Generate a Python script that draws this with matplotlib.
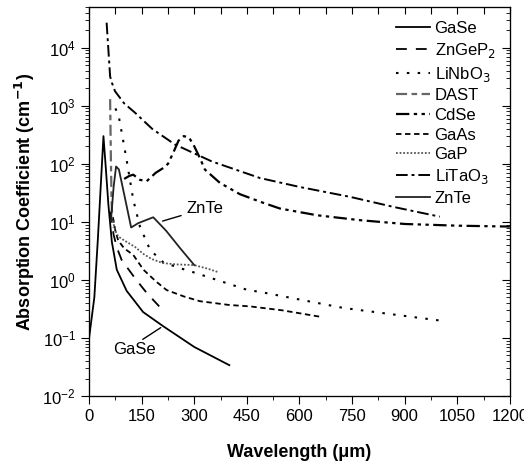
import numpy as np
import matplotlib
matplotlib.use('Agg')
import matplotlib.pyplot as plt

plt.rcParams['font.family'] = ['Liberation Sans', 'DejaVu Sans']

# data (wavelength in um, absorption in cm^-1)
gase_x = [0, 15, 25, 32, 41, 48, 55, 65, 79, 107, 154, 211, 300, 400]
gase_y = [0.1, 0.5, 5, 30, 300, 80, 20, 4.5, 1.5, 0.65, 0.28, 0.16, 0.07, 0.034]

zngep2_x = [60, 70, 80, 93, 131, 164, 200]
zngep2_y = [15, 6, 3.5, 2.2, 1.07, 0.6, 0.35]

linbo3_x = [75, 84, 95, 107, 126, 145, 174, 212, 259, 307, 449, 501, 724, 1000]
linbo3_y = [900, 690, 300, 117, 24, 8.3, 3.3, 2.0, 1.6, 1.3, 0.68, 0.6, 0.33, 0.2]

dast_x = [60, 62, 64, 66, 70]
dast_y = [1300, 150, 25, 12, 8]

cdse_x = [100, 115, 126, 145, 164, 190, 212, 225, 240, 255, 270, 285, 300, 315,
          330, 373, 430, 490, 544, 650, 772, 900, 1050, 1200]
cdse_y = [55, 62, 65, 53, 50, 70, 85, 100, 155, 250, 300, 285, 200, 130,
          80, 47, 30, 22, 17, 13, 10.7, 9.2, 8.6, 8.3]

gaas_x = [68, 75, 83, 100, 126, 155, 190, 221, 270, 316, 400, 459, 550, 663]
gaas_y = [12, 7, 4.8, 3.5, 2.7, 1.5, 0.95, 0.67, 0.52, 0.43, 0.37, 0.35, 0.3, 0.23]

gap_x = [65, 75, 83, 100, 131, 155, 178, 210, 250, 300, 340, 370]
gap_y = [12, 7, 5.6, 4.8, 3.7, 2.8, 2.3, 1.95, 1.85, 1.8, 1.55, 1.35]

litao3_x = [50, 55, 60, 65, 74, 100, 131, 180, 245, 350, 487, 600, 744, 870, 1000]
litao3_y = [27000, 9300, 3200, 2500, 1780, 1100, 760, 400, 215, 110, 57, 40, 27, 18, 12.3]

znte_x = [62, 70, 77, 85, 100, 120, 140, 183, 220, 260, 300]
znte_y = [10, 40, 90, 80, 30, 8, 9.5, 12, 7, 3.5, 1.8]

fig = plt.figure(figsize=(5.24, 4.76), dpi=100)
ax = fig.add_axes([0.170, 0.168, 0.803, 0.817])

ax.plot(gase_x, gase_y, color='black', lw=1.3, label='GaSe')
ax.plot(zngep2_x, zngep2_y, color='black', lw=1.3, ls=(0, (6, 5)), label='ZnGeP$_2$')
ax.plot(linbo3_x, linbo3_y, color='black', lw=1.5, ls=(0, (1.2, 4)), label='LiNbO$_3$')
ax.plot(dast_x, dast_y, color='#666666', lw=1.6, ls=(0, (5, 2, 2.5, 2)), label='DAST')
ax.plot(cdse_x, cdse_y, color='black', lw=1.6, ls=(0, (6, 2, 1.5, 2, 1.5, 2)), label='CdSe')
ax.plot(gaas_x, gaas_y, color='black', lw=1.3, ls=(0, (3, 2)), label='GaAs')
ax.plot(gap_x, gap_y, color='#555555', lw=1.3, ls=(0, (1, 1)), label='GaP')
ax.plot(litao3_x, litao3_y, color='black', lw=1.4, ls=(0, (6, 2, 1.5, 2)), label='LiTaO$_3$')
ax.plot(znte_x, znte_y, color='#222222', lw=1.3, label='ZnTe')

ax.set_yscale('log')
ax.set_xlim(0, 1200)
ax.set_ylim(0.01, 5e4)
ax.set_xticks(np.arange(0, 1201, 150))
ax.set_xticks(np.arange(0, 1201, 75), minor=True)
ax.tick_params(which='both', direction='out', labelsize=12)
ax.tick_params(which='major', length=6)
ax.tick_params(which='minor', length=3)

# mirrored ticks pointing inward on top and right
axt = ax.twiny()
axt.set_xlim(ax.get_xlim())
axt.set_xticks(np.arange(0, 1201, 75))
axt.tick_params(direction='in', length=5, labeltop=False)
axr = ax.twinx()
axr.set_yscale('log')
axr.set_ylim(ax.get_ylim())
axr.tick_params(which='both', direction='in', labelright=False)
axr.tick_params(which='major', length=6)
axr.tick_params(which='minor', length=3)

ax.set_xlabel('Wavelength (\u03bcm)', fontsize=13, fontweight='bold', labelpad=14)
ax.set_ylabel('Absorption Coefficient (cm$^{\\mathbf{-1}}$)', fontsize=13, fontweight='bold')

ax.annotate('ZnTe', xy=(202, 10), xytext=(278, 17), fontsize=12, va='center',
            arrowprops=dict(arrowstyle='-', color='black', lw=1))
ax.annotate('GaSe', xy=(211, 0.16), xytext=(68, 0.063), fontsize=12, va='center',
            arrowprops=dict(arrowstyle='-', color='black', lw=1, shrinkA=0, relpos=(0.6, 1)))

ax.legend(loc='upper right', frameon=False, fontsize=12, handlelength=2.0,
          labelspacing=0.28, handletextpad=0.3, borderaxespad=0.45)

fig.savefig('out.png', dpi=100)
